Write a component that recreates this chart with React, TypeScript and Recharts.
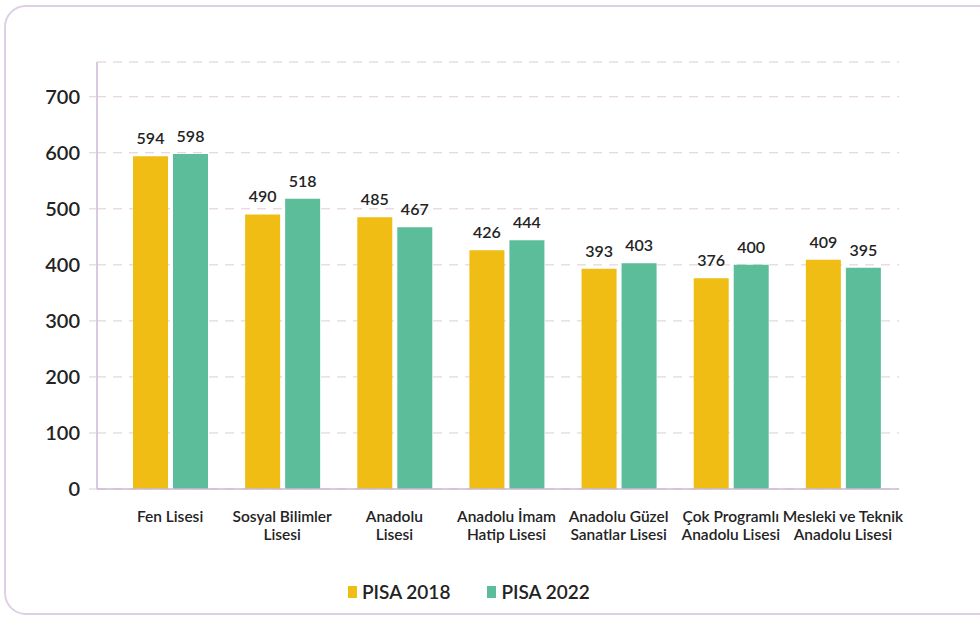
import React from "react";
import {
  BarChart,
  Bar,
  XAxis,
  YAxis,
  CartesianGrid,
  LabelList,
} from "recharts";

// School types (multi-line tick labels)
const schoolLines: string[][] = [
  ["Fen Lisesi"],
  ["Sosyal Bilimler", "Lisesi"],
  ["Anadolu", "Lisesi"],
  ["Anadolu İmam", "Hatip Lisesi"],
  ["Anadolu Güzel", "Sanatlar Lisesi"],
  ["Çok Programlı", "Anadolu Lisesi"],
  ["Mesleki ve Teknik", "Anadolu Lisesi"],
];
const schools = schoolLines.map((l) => l.join(" "));

const pisa2018 = [594, 490, 485, 426, 393, 376, 409];
const pisa2022 = [598, 518, 467, 444, 403, 400, 395];
const yTicks = [0, 100, 200, 300, 400, 500, 600, 700];

const series = [
  { key: "pisa2018", name: "PISA 2018", color: "#EFBD14" },
  { key: "pisa2022", name: "PISA 2022", color: "#5CBD9A" },
];

const data = schools.map((s, i) => ({
  school: s,
  pisa2018: pisa2018[i],
  pisa2022: pisa2022[i],
}));

const FONT = "Lato, 'Open Sans', sans-serif";
const TEXT = "#232323";

function SchoolTick(props: any) {
  const { x, y, payload } = props;
  const idx = schools.indexOf(payload.value);
  const lines = idx >= 0 ? schoolLines[idx] : [payload.value];
  return (
    <text
      x={x}
      y={y + 25}
      textAnchor="middle"
      fontSize={15.5}
      fontWeight={600}
      fill={TEXT}
      fontFamily={FONT}
    >
      {lines.map((line, i) => (
        <tspan key={i} x={x} dy={i === 0 ? 0 : 18}>
          {line}
        </tspan>
      ))}
    </text>
  );
}

export default function App() {
  return (
    <div
      style={{
        position: "absolute",
        left: 0,
        top: 0,
        width: 980,
        height: 621,
        overflow: "hidden",
        background: "#ffffff",
        fontFamily: FONT,
      }}
    >
      {/* rounded frame */}
      <div
        style={{
          position: "absolute",
          left: 4,
          top: 5,
          width: 1010,
          height: 610,
          border: "2px solid #ddd0e4",
          borderRadius: 22,
          boxSizing: "border-box",
        }}
      />
      <div style={{ position: "absolute", left: 0, top: 0 }}>
        <BarChart
          width={980}
          height={621}
          data={data}
          margin={{ top: 62, right: 81, left: 0, bottom: 57 }}
          barSize={35}
          barGap={5}
        >
          <CartesianGrid
            horizontal
            vertical={false}
            stroke="#dfcdd3"
            strokeDasharray="9 7"
          />
          <XAxis
            dataKey="school"
            tick={<SchoolTick />}
            tickLine={false}
            axisLine={{ stroke: "#cbb8d6", strokeWidth: 1.5 }}
            height={75}
            interval={0}
            padding={{ left: 17, right: 0 }}
          />
          <YAxis
            width={97}
            domain={[0, 762]}
            ticks={yTicks}
            interval={0}
            tickSize={8}
            tickMargin={9}
            tickLine={{ stroke: "#dfcdd3" }}
            axisLine={{ stroke: "#cbb8d6", strokeWidth: 1.5 }}
            tick={{
              fontSize: 20,
              fontWeight: 600,
              fill: TEXT,
              fontFamily: FONT,
            }}
          />
          {series.map((s) => (
            <Bar
              key={s.key}
              dataKey={s.key}
              name={s.name}
              fill={s.color}
              isAnimationActive={false}
            >
              <LabelList
                dataKey={s.key}
                position="top"
                offset={12}
                style={{
                  fontSize: 16,
                  fontWeight: 600,
                  fill: TEXT,
                  fontFamily: FONT,
                }}
              />
            </Bar>
          ))}
        </BarChart>
      </div>
      {/* legend */}
      <div
        style={{
          position: "absolute",
          left: 348,
          top: 580,
          display: "flex",
          alignItems: "center",
          gap: 37,
        }}
      >
        {series.map((s) => (
          <div
            key={s.key}
            style={{ display: "flex", alignItems: "center", gap: 5 }}
          >
            <span
              style={{
                display: "inline-block",
                width: 9,
                height: 12,
                background: s.color,
              }}
            />
            <span
              style={{
                fontSize: 19,
                fontWeight: 600,
                color: TEXT,
                fontFamily: FONT,
              }}
            >
              {s.name}
            </span>
          </div>
        ))}
      </div>
    </div>
  );
}
